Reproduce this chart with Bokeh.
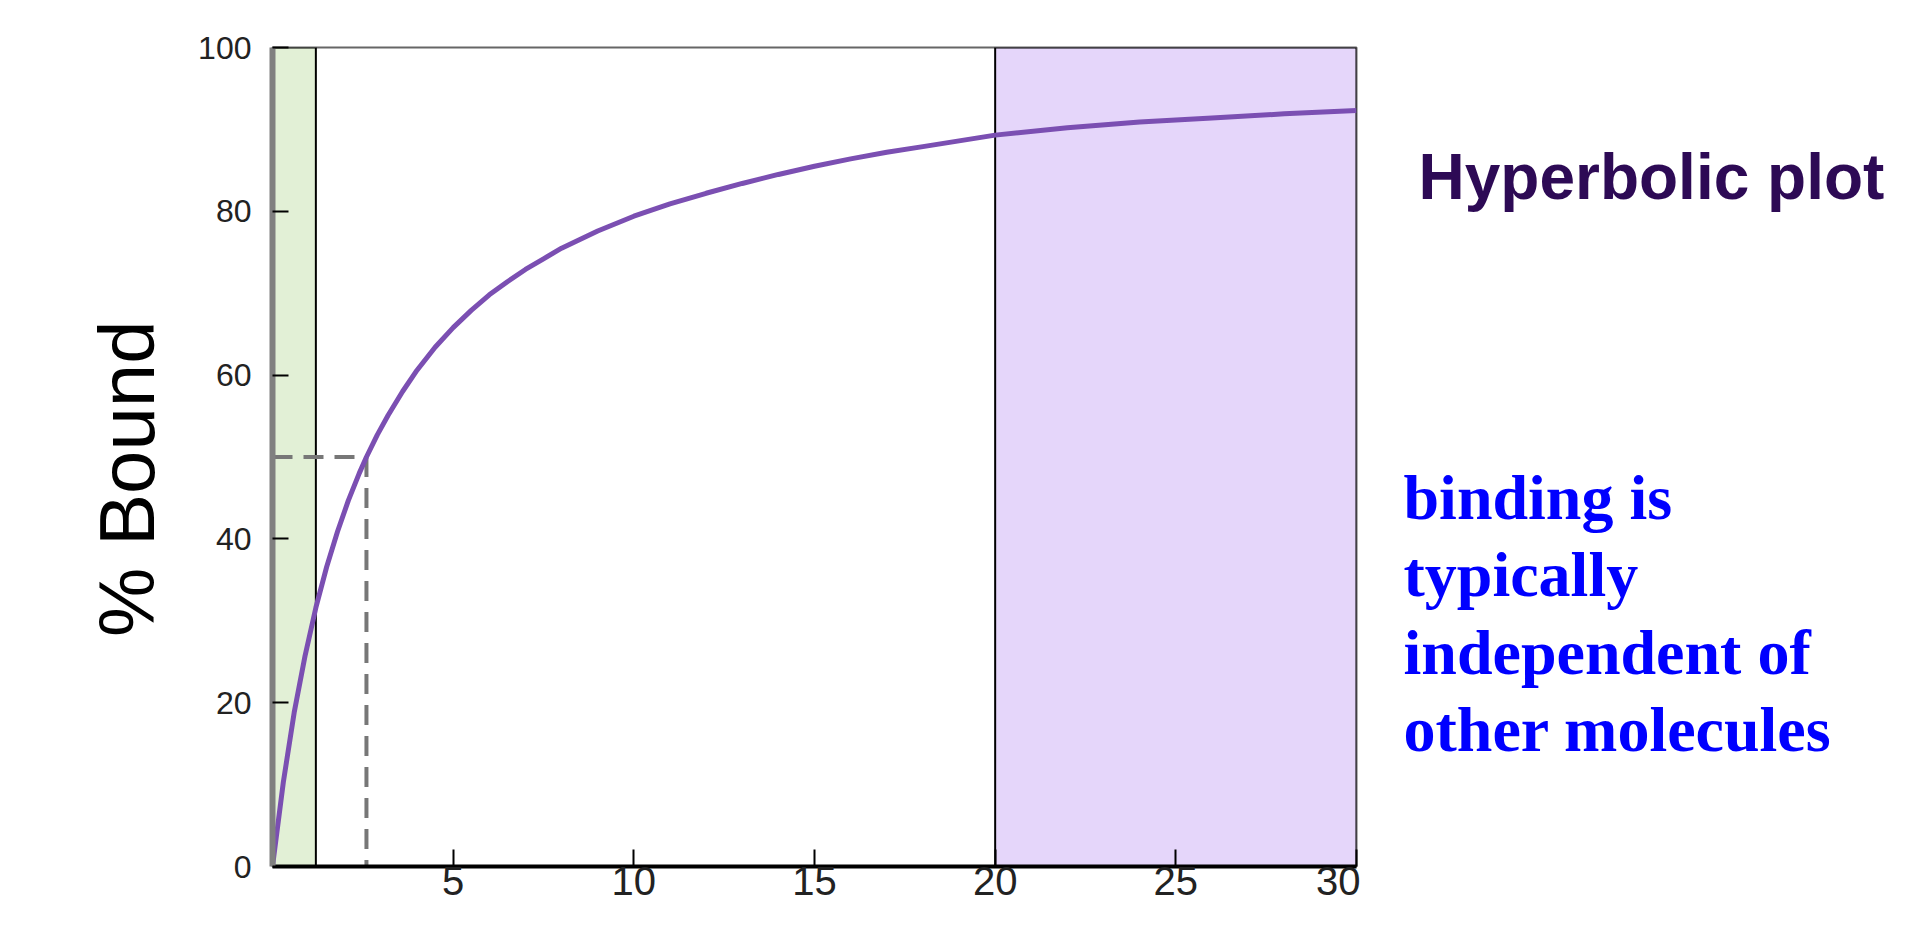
from bokeh.plotting import figure
from bokeh.layouts import row
from bokeh.models import Range1d, FixedTicker, Label
from bokeh.embed import file_html
from bokeh.resources import INLINE

# ---- data ----
conc = [0, 0.3, 0.6, 0.9, 1.2, 1.5, 1.8, 2.1, 2.4, 2.6, 2.9, 3.2, 3.6, 4.0, 4.5, 5.0,
        5.5, 6.0, 6.5, 7.0, 7.5, 8.0, 9.0, 10.0, 11.0, 12.0, 13.0, 14.0, 15.0, 16.0,
        17.0, 18.0, 19.0, 20.0, 22.0, 24.0, 26.0, 28.0, 30.0]
bound = [0, 10.3, 18.8, 25.7, 31.6, 36.6, 40.9, 44.7, 48.0, 50.0, 52.7, 55.1, 58.0, 60.6,
         63.4, 65.8, 67.9, 69.8, 71.4, 72.9, 74.2, 75.5, 77.6, 79.4, 80.9, 82.2, 83.4,
         84.5, 85.5, 86.4, 87.2, 87.9, 88.6, 89.3, 90.2, 90.9, 91.4, 91.9, 92.3]
kd = 2.6
half_bound = 50
band_left = [0, 20]
band_right = [1.2, 30]
band_colors = ["#E2F0D6", "#E5D6FA"]
x_ticks = [5, 10, 15, 20, 25, 30]
y_ticks = [0, 20, 40, 60, 80, 100]
y_label = "% Bound"
title_text = "Hyperbolic plot"
note_lines = ["binding is", "typically", "independent of", "other molecules"]

H = 910
PW = 1360
TW = 1900 - PW

p = figure(width=PW, height=H, output_backend="svg", toolbar_location=None,
           x_range=Range1d(0, 30), y_range=Range1d(0, 100),
           min_border_left=272, min_border_right=4, min_border_top=47,
           min_border_bottom=44)
p.background_fill_color = "white"
p.border_fill_color = "white"
p.outline_line_color = "#666666"
p.outline_line_width = 2
p.xgrid.visible = False
p.ygrid.visible = False

# bands
p.quad(left=band_left, right=band_right, bottom=[0, 0], top=[100, 100],
       fill_color=band_colors, line_color="black", line_width=2)

# dashed guides at half saturation
p.line([0, kd], [half_bound, half_bound], line_color="#777777", line_width=4, line_dash="20 11")
p.line([kd, kd], [half_bound, 0], line_color="#777777", line_width=4, line_dash="20 11")

# curve
p.line(conc, bound, line_color="#7B4FB2", line_width=5)

# axes
xa = p.xaxis[0]
xa.ticker = FixedTicker(ticks=x_ticks)
xa.axis_line_color = "black"
xa.axis_line_width = 4
xa.major_tick_in = 17
xa.major_tick_out = 0
xa.major_tick_line_width = 2
xa.major_tick_line_color = "black"
xa.minor_tick_line_color = None
xa.major_label_text_font = "Liberation Sans"
xa.major_label_text_font_size = "40px"
xa.major_label_text_color = "#222222"
xa.major_label_standoff = 0

ya = p.yaxis[0]
ya.ticker = FixedTicker(ticks=y_ticks)
ya.axis_line_color = "#808080"
ya.axis_line_width = 6
ya.major_tick_in = 16
ya.major_tick_out = 0
ya.major_tick_line_width = 2
ya.major_tick_line_color = "black"
ya.minor_tick_line_color = None
ya.major_label_text_font = "Liberation Sans"
ya.major_label_text_font_size = "32px"
ya.major_label_text_color = "#222222"
ya.major_label_standoff = 21
ya.axis_label = y_label + "\u00a0\u00a0"
ya.axis_label_text_font = "Liberation Sans"
ya.axis_label_text_font_size = "78px"
ya.axis_label_text_font_style = "normal"
ya.axis_label_text_color = "black"
ya.axis_label_standoff = 24

# right-hand text panel (y downward)
t = figure(width=TW, height=H, output_backend="svg", toolbar_location=None,
           title=None, x_range=Range1d(0, TW), y_range=Range1d(H, 0),
           x_axis_type=None, y_axis_type=None,
           min_border_left=0, min_border_right=0, min_border_top=0,
           min_border_bottom=0)
t.outline_line_color = None
t.background_fill_color = "white"
t.border_fill_color = "white"

t.add_layout(Label(x=58, y=144, text=title_text, text_font="Liberation Sans",
                   text_font_size="64px", text_font_style="bold",
                   text_color="#2D0A55", text_baseline="alphabetic"))
for i, line in enumerate(note_lines):
    t.add_layout(Label(x=43, y=500 + i * 86, text=line, text_font="Liberation Serif",
                       text_font_size="64px", text_font_style="bold",
                       text_color="#0000FF", text_baseline="alphabetic"))

layout = row(p, t)
open("out.html", "w").write(file_html(layout, INLINE))
